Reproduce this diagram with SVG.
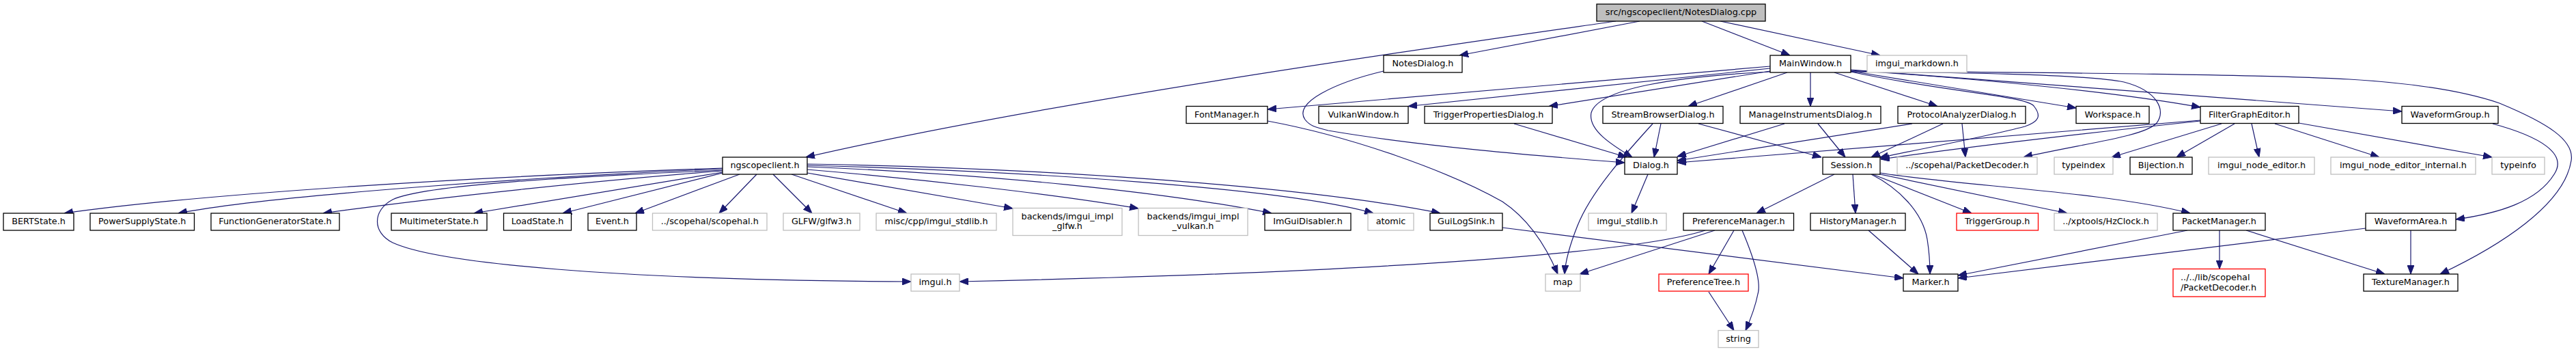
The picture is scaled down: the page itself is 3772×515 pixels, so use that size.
<svg xmlns="http://www.w3.org/2000/svg" width="3772" height="515" viewBox="0 0 3772 515">
<defs>
<style>
.nd rect{fill:#fff;stroke:#000;stroke-width:1.3}
.nd.gr rect{stroke:#bfbfbf}
.nd.rd rect{stroke:#ff0000}
.nd.top rect{fill:#bfbfbf}
text{font-family:"DejaVu Sans","Liberation Sans",sans-serif;font-size:12.8px;fill:#000;text-anchor:middle}
text.l{text-anchor:start}
#edges path{fill:none;stroke:#191970;stroke-width:1.2;marker-end:url(#ah)}
</style>
<marker id="ah" viewBox="0 0 13 10" refX="13" refY="5" markerWidth="13" markerHeight="10" markerUnits="userSpaceOnUse" orient="auto">
<path d="M0,0 L13,5 L0,10 z" fill="#191970" stroke="#191970" stroke-width="1"/>
</marker>
</defs>
<rect width="3772" height="515" fill="#fff"/>
<g id="edges">
<path d="M2366,31 C2150,62 1550,145 1180,230"/>
<path d="M2401,31 L2137,81"/>
<path d="M2492,31 L2621,81"/>
<path d="M2519,31 L2753,81"/>
<path d="M2026,104 C1955,121 1893,150 1911,175 C1918,184 1925,186 1945,191 C2080,214 2250,228 2379,238"/>
<path d="M2592,97 L1856,160"/>
<path d="M2592,100 L2062,155.5"/>
<path d="M2592,104 L2268,155.5"/>
<path d="M2617,106 L2472,155.5"/>
<path d="M2592,105 C2450,112 2340,130 2330,165 C2325,190 2360,212 2390,230"/>
<path d="M2651,106 L2651,155.5"/>
<path d="M2686,106 L2837,155.5"/>
<path d="M2710,105 C2850,135 2965,140 2978,155 C2990,170 2985,178 2965,185 C2900,202 2800,220 2752,231"/>
<path d="M2710,104 L3040,158"/>
<path d="M2710,103 C2900,115 3100,135 3222,157"/>
<path d="M2710,102 L3517,163"/>
<path d="M2710,104 C2950,106 3300,108 3440,116 C3540,122 3610,134 3660,151 C3730,180 3770,205 3765,235 C3755,300 3660,360 3573,401"/>
<path d="M2710,105 C2850,106 3050,108 3110,120 C3160,133 3172,162 3158,180 C3140,200 3050,210 2963,230"/>
<path d="M2432,181 L2422,230"/>
<path d="M2420,181 C2380,225 2330,280 2310,330 C2298,360 2292,385 2291,401"/>
<path d="M2487,181 L2667,230"/>
<path d="M2217,181 L2382,230"/>
<path d="M2613,181 L2456,229"/>
<path d="M2662,181 L2702,230"/>
<path d="M2800,181 L2456,235"/>
<path d="M2845,181 L2740,230"/>
<path d="M2873,181 L2878,230"/>
<path d="M3222,176 C3000,195 2700,218 2456,238"/>
<path d="M3222,177 C3100,190 2900,212 2754,233"/>
<path d="M3253,181 L3092,230"/>
<path d="M3272,181 L3187,230"/>
<path d="M3297,181 L3308,230"/>
<path d="M3331,181 L3484,230"/>
<path d="M3366,180 L3649,230"/>
<path d="M3650,181 C3720,200 3760,225 3740,255 C3715,295 3660,312 3596,321"/>
<path d="M3530,337 L3530,401"/>
<path d="M3464,334 L2867,407"/>
<path d="M3250,337 L3250,393.5"/>
<path d="M3289,337 L3492,401"/>
<path d="M3203,337 L2867,403"/>
<path d="M2686,255 L2572,312"/>
<path d="M2713,255 L2717,312"/>
<path d="M2740,255 C2780,275 2815,310 2822,350 C2826,375 2826,390 2826,401"/>
<path d="M2742,255 L2887,312"/>
<path d="M2748,254 L3027,312"/>
<path d="M2753,253 C2870,272 3080,280 3207,312"/>
<path d="M2736,337 L2809,401"/>
<path d="M2539,337 L2502,401"/>
<path d="M2551,337 C2565,370 2580,410 2574,430 C2570,450 2562,470 2556,483.5"/>
<path d="M2502,427 L2539,483.5"/>
<path d="M2511,337 L2313,401"/>
<path d="M2497,337 C2400,368 2050,398 1405,412"/>
<path d="M2200,333 L2787,407"/>
<path d="M1856,177 C1980,200 2120,250 2200,295 C2245,325 2268,370 2281,401"/>
<path d="M2413,255 L2389,312"/>
<path d="M1058,246 C700,258 300,283 94,312"/>
<path d="M1058,247 C800,258 400,285 261,312"/>
<path d="M1058,250 C900,262 650,287 473,312"/>
<path d="M1058,252 L694,312"/>
<path d="M1058,253 L824,312"/>
<path d="M1083,255 L930,312"/>
<path d="M1108,255 L1053,312"/>
<path d="M1132,255 L1189,312"/>
<path d="M1159,255 L1328,312"/>
<path d="M1182,253 L1483,305"/>
<path d="M1182,248 C1350,262 1550,285 1667,305"/>
<path d="M1182,244 C1450,255 1700,280 1862,312"/>
<path d="M1182,242 C1500,250 1880,275 2011,312"/>
<path d="M1182,240 C1500,245 1900,270 2109,312"/>
<path d="M1058,249 C850,258 620,270 575,292 C545,308 545,340 575,355 C640,385 900,410 1334,412"/>
</g>
<g id="n_top" class="nd top"><rect x="2338" y="6" width="247" height="25"/><text x="2461.5" y="22.3">src/ngscopeclient/NotesDialog.cpp</text></g>
<g id="n_notesdialog" class="nd"><rect x="2026" y="81" width="115" height="25"/><text x="2083.5" y="97.3">NotesDialog.h</text></g>
<g id="n_mainwindow" class="nd"><rect x="2592" y="81" width="118" height="25"/><text x="2651" y="97.3">MainWindow.h</text></g>
<g id="n_imgui_markdown" class="nd gr"><rect x="2734" y="81" width="146" height="25"/><text x="2807" y="97.3">imgui_markdown.h</text></g>
<g id="n_fontmanager" class="nd"><rect x="1737" y="155.5" width="119" height="25"/><text x="1796.5" y="171.8">FontManager.h</text></g>
<g id="n_vulkanwindow" class="nd"><rect x="1931" y="155.5" width="131" height="25"/><text x="1996.5" y="171.8">VulkanWindow.h</text></g>
<g id="n_triggerprops" class="nd"><rect x="2086" y="155.5" width="187" height="25"/><text x="2179.5" y="171.8">TriggerPropertiesDialog.h</text></g>
<g id="n_streambrowser" class="nd"><rect x="2347" y="155.5" width="176" height="25"/><text x="2435" y="171.8">StreamBrowserDialog.h</text></g>
<g id="n_manageinstruments" class="nd"><rect x="2548" y="155.5" width="206" height="25"/><text x="2651" y="171.8">ManageInstrumentsDialog.h</text></g>
<g id="n_protocolanalyzer" class="nd"><rect x="2779" y="155.5" width="187" height="25"/><text x="2872.5" y="171.8">ProtocolAnalyzerDialog.h</text></g>
<g id="n_workspace" class="nd"><rect x="3040" y="155.5" width="107" height="25"/><text x="3093.5" y="171.8">Workspace.h</text></g>
<g id="n_filtergrapheditor" class="nd"><rect x="3222" y="155.5" width="144" height="25"/><text x="3294" y="171.8">FilterGraphEditor.h</text></g>
<g id="n_waveformgroup" class="nd"><rect x="3517" y="155.5" width="141" height="25"/><text x="3587.5" y="171.8">WaveformGroup.h</text></g>
<g id="n_ngscopeclient" class="nd"><rect x="1058" y="230" width="124" height="25"/><text x="1120" y="246.3">ngscopeclient.h</text></g>
<g id="n_dialog" class="nd"><rect x="2379" y="230" width="77" height="25"/><text x="2417.5" y="246.3">Dialog.h</text></g>
<g id="n_session" class="nd"><rect x="2669" y="230" width="84" height="25"/><text x="2711" y="246.3">Session.h</text></g>
<g id="n_packetdecoder_sh" class="nd gr"><rect x="2778" y="230" width="205" height="25"/><text x="2880.5" y="246.3">../scopehal/PacketDecoder.h</text></g>
<g id="n_typeindex" class="nd gr"><rect x="3008" y="230" width="86" height="25"/><text x="3051" y="246.3">typeindex</text></g>
<g id="n_bijection" class="nd"><rect x="3119" y="230" width="91" height="25"/><text x="3164.5" y="246.3">Bijection.h</text></g>
<g id="n_imgui_node_editor" class="nd gr"><rect x="3234" y="230" width="155" height="25"/><text x="3311.5" y="246.3">imgui_node_editor.h</text></g>
<g id="n_imgui_node_editor_internal" class="nd gr"><rect x="3413" y="230" width="212" height="25"/><text x="3519" y="246.3">imgui_node_editor_internal.h</text></g>
<g id="n_typeinfo" class="nd gr"><rect x="3649" y="230" width="77" height="25"/><text x="3687.5" y="246.3">typeinfo</text></g>
<g id="n_bertstate" class="nd"><rect x="5" y="312" width="103" height="25"/><text x="56.5" y="328.3">BERTState.h</text></g>
<g id="n_powersupplystate" class="nd"><rect x="132" y="312" width="152.5" height="25"/><text x="208.25" y="328.3">PowerSupplyState.h</text></g>
<g id="n_functiongeneratorstate" class="nd"><rect x="309" y="312" width="188" height="25"/><text x="403" y="328.3">FunctionGeneratorState.h</text></g>
<g id="n_multimeterstate" class="nd"><rect x="573" y="312" width="140" height="25"/><text x="643" y="328.3">MultimeterState.h</text></g>
<g id="n_loadstate" class="nd"><rect x="737.5" y="312" width="99" height="25"/><text x="787" y="328.3">LoadState.h</text></g>
<g id="n_event" class="nd"><rect x="861" y="312" width="71" height="25"/><text x="896.5" y="328.3">Event.h</text></g>
<g id="n_scopehal" class="nd gr"><rect x="955.5" y="312" width="167.5" height="25"/><text x="1039.25" y="328.3">../scopehal/scopehal.h</text></g>
<g id="n_glfw" class="nd gr"><rect x="1147" y="312" width="112" height="25"/><text x="1203" y="328.3">GLFW/glfw3.h</text></g>
<g id="n_misc_imgui_stdlib" class="nd gr"><rect x="1283" y="312" width="176" height="25"/><text x="1371" y="328.3">misc/cpp/imgui_stdlib.h</text></g>
<g id="n_backends_glfw" class="nd gr"><rect x="1483" y="304.5" width="160" height="40"/><text x="1563" y="320.8">backends/imgui_impl</text><text x="1563" y="334.8">_glfw.h</text></g>
<g id="n_backends_vulkan" class="nd gr"><rect x="1667" y="304.5" width="160" height="40"/><text x="1747" y="320.8">backends/imgui_impl</text><text x="1747" y="334.8">_vulkan.h</text></g>
<g id="n_imguidisabler" class="nd"><rect x="1852" y="312" width="126" height="25"/><text x="1915" y="328.3">ImGuiDisabler.h</text></g>
<g id="n_atomic" class="nd gr"><rect x="2003" y="312" width="67" height="25"/><text x="2036.5" y="328.3">atomic</text></g>
<g id="n_guilogsink" class="nd"><rect x="2094" y="312" width="106" height="25"/><text x="2147" y="328.3">GuiLogSink.h</text></g>
<g id="n_imgui_stdlib" class="nd gr"><rect x="2326" y="312" width="114" height="25"/><text x="2383" y="328.3">imgui_stdlib.h</text></g>
<g id="n_preferencemanager" class="nd"><rect x="2465" y="312" width="161.5" height="25"/><text x="2545.75" y="328.3">PreferenceManager.h</text></g>
<g id="n_historymanager" class="nd"><rect x="2651" y="312" width="139" height="25"/><text x="2720.5" y="328.3">HistoryManager.h</text></g>
<g id="n_triggergroup" class="nd rd"><rect x="2865" y="312" width="119.5" height="25"/><text x="2924.75" y="328.3">TriggerGroup.h</text></g>
<g id="n_hzclock" class="nd gr"><rect x="3008" y="312" width="151" height="25"/><text x="3083.5" y="328.3">../xptools/HzClock.h</text></g>
<g id="n_packetmanager" class="nd"><rect x="3182" y="312" width="135" height="25"/><text x="3249.5" y="328.3">PacketManager.h</text></g>
<g id="n_waveformarea" class="nd"><rect x="3464" y="312" width="132" height="25"/><text x="3530" y="328.3">WaveformArea.h</text></g>
<g id="n_imgui" class="nd gr"><rect x="1334" y="401" width="71" height="25"/><text x="1369.5" y="417.3">imgui.h</text></g>
<g id="n_map" class="nd gr"><rect x="2263" y="401" width="51" height="25"/><text x="2288.5" y="417.3">map</text></g>
<g id="n_preferencetree" class="nd rd"><rect x="2429" y="401" width="131" height="25"/><text x="2494.5" y="417.3">PreferenceTree.h</text></g>
<g id="n_marker" class="nd"><rect x="2787" y="401" width="80" height="25"/><text x="2827" y="417.3">Marker.h</text></g>
<g id="n_packetdecoder_lib" class="nd rd"><rect x="3182" y="393.5" width="135" height="40.5"/><text class="l" x="3193" y="409.5">../../lib/scopehal</text><text class="l" x="3193" y="424.5">/PacketDecoder.h</text></g>
<g id="n_texturemanager" class="nd"><rect x="3461" y="401" width="138" height="25"/><text x="3530" y="417.3">TextureManager.h</text></g>
<g id="n_string" class="nd gr"><rect x="2516" y="483.5" width="59" height="25"/><text x="2545.5" y="499.8">string</text></g>
</svg>
